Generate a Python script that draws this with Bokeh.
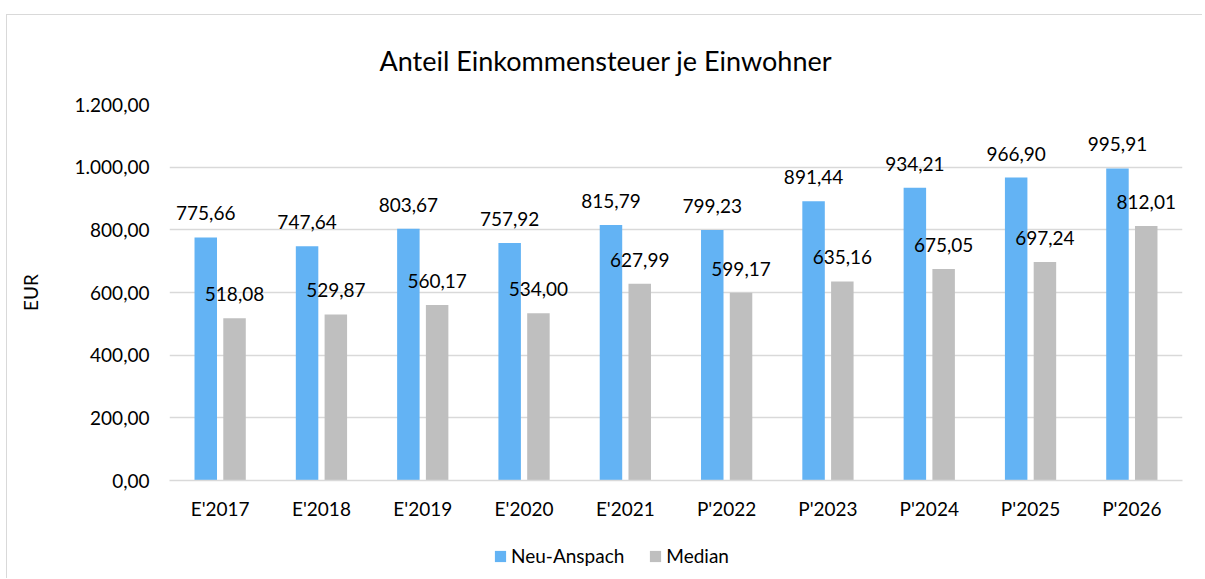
from bokeh.plotting import figure
from bokeh.layouts import column
from bokeh.models import Range1d, FixedTicker, Legend, LegendItem, ColumnDataSource
from bokeh.transform import dodge
from bokeh.core.properties import value
from bokeh.embed import file_html
from bokeh.resources import INLINE

categories = ["E'2017", "E'2018", "E'2019", "E'2020", "E'2021",
              "P'2022", "P'2023", "P'2024", "P'2025", "P'2026"]
neu_anspach = [775.66, 747.64, 803.67, 757.92, 815.79, 799.23, 891.44, 934.21, 966.90, 995.91]
median = [518.08, 529.87, 560.17, 534.00, 627.99, 599.17, 635.16, 675.05, 697.24, 812.01]
series_names = ["Neu-Anspach", "Median"]
y_ticks = [0, 200, 400, 600, 800, 1000, 1200]

FONT = "Lato"
BLUE = "#63B3F4"
GRAY = "#BFBFBF"
LINE = "#D9D9D9"
W = 1195


def de(v):
    s = f"{v:,.2f}"
    return s.replace(",", "X").replace(".", ",").replace("X", ".")


src = ColumnDataSource(dict(
    cat=categories,
    neu=neu_anspach,
    med=median,
    neu_lab=[de(v) for v in neu_anspach],
    med_lab=[de(v) for v in median],
))

p = figure(x_range=categories, y_range=Range1d(0, 1200),
           width=W, height=512,
           frame_width=1012, frame_height=375,
           min_border_left=162, min_border_right=W - 162 - 1012,
           min_border_top=88, min_border_bottom=49,
           output_backend="svg", toolbar_location=None,
           styles={"border-top": "1.5px solid #D9D9D9",
                   "border-left": "1.5px solid #D9D9D9",
                   "margin-top": "14px", "margin-left": "6px"})

p.background_fill_color = "white"
p.border_fill_color = "white"
p.outline_line_color = None

p.title.text = "Anteil Einkommensteuer je Einwohner"
p.title.align = "left"
p.title.offset = 210
p.title.vertical_align = "middle"
p.title.standoff = 54
p.title.text_font = FONT
p.title.text_font_size = "27px"
p.title.text_font_style = "normal"
p.title.text_color = "#000000"

p.vbar(x=dodge("cat", -0.142, range=p.x_range), top="neu", width=0.222,
       source=src, fill_color=BLUE, line_color=None)
p.vbar(x=dodge("cat", 0.142, range=p.x_range), top="med", width=0.222,
       source=src, fill_color=GRAY, line_color=None)

for off, col in ((-0.142, "neu"), (0.142, "med")):
    p.text(x=dodge("cat", off, range=p.x_range), y=col, text=col + "_lab",
           source=src, text_align="center", text_baseline="middle",
           y_offset=-24, text_font=value(FONT), text_font_size="19px",
           text_color="#000000")

p.yaxis.ticker = FixedTicker(ticks=y_ticks)
p.yaxis.major_label_overrides = {t: de(t) for t in y_ticks}
p.yaxis.axis_line_color = None
p.yaxis.major_tick_line_color = None
p.yaxis.minor_tick_line_color = None
p.yaxis.major_tick_out = 0
p.yaxis.major_label_standoff = 20
p.yaxis.major_label_text_font = FONT
p.yaxis.major_label_text_font_size = "19px"
p.yaxis.major_label_text_color = "#000000"
p.yaxis.axis_label = "EUR"
p.yaxis.axis_label_text_font = FONT
p.yaxis.axis_label_text_font_size = "19px"
p.yaxis.axis_label_text_font_style = "normal"
p.yaxis.axis_label_text_color = "#000000"
p.yaxis.axis_label_standoff = 30

p.xaxis.axis_line_color = LINE
p.xaxis.axis_line_width = 1.5
p.xaxis.major_tick_line_color = None
p.xaxis.minor_tick_line_color = None
p.xaxis.major_tick_out = 0
p.xaxis.major_label_standoff = 16
p.xaxis.major_label_text_font = FONT
p.xaxis.major_label_text_font_size = "19px"
p.xaxis.major_label_text_color = "#000000"

p.xgrid.grid_line_color = None
p.ygrid.grid_line_color = LINE
p.ygrid.grid_line_width = 1.5

# legend strip below the chart (same border line on the left)
leg = figure(width=W, height=50, x_range=Range1d(0, 1), y_range=Range1d(0, 1),
             min_border_left=0, min_border_right=0, min_border_top=0, min_border_bottom=0,
             output_backend="svg", toolbar_location=None,
             styles={"border-left": "1.5px solid #D9D9D9", "margin-left": "6px"})
leg.axis.visible = False
leg.grid.visible = False
leg.outline_line_color = None
leg.background_fill_color = "white"
leg.border_fill_color = "white"

# zero-height bars: only their legend swatches are visible
key_src = ColumnDataSource(dict(x=[0.5], top=[0]))
lr1 = leg.vbar(x="x", top="top", width=0.1, source=key_src,
               fill_color=BLUE, line_color=None)
lr2 = leg.vbar(x="x", top="top", width=0.1, source=key_src,
               fill_color=GRAY, line_color=None)

legend = Legend(items=[LegendItem(label=series_names[0], renderers=[lr1]),
                       LegendItem(label=series_names[1], renderers=[lr2])],
                orientation="horizontal", location=(324, 11),
                glyph_width=14, glyph_height=14, label_standoff=4, spacing=24,
                label_text_font=FONT, label_text_font_size="19px",
                label_text_color="#000000", border_line_color=None,
                background_fill_alpha=0, padding=0, margin=0)
leg.add_layout(legend, "center")

layout = column(p, leg, spacing=0)

open("out.html", "w").write(file_html(layout, INLINE))
